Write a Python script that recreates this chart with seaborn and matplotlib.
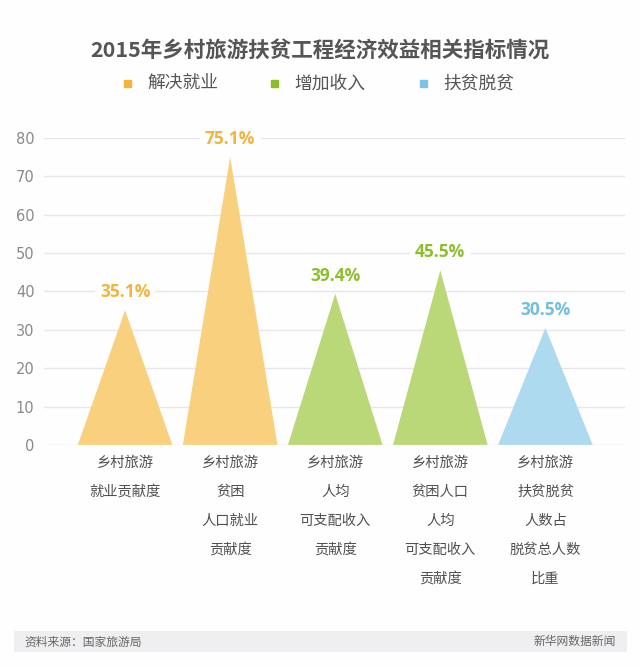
import matplotlib
matplotlib.use('Agg')
import matplotlib.pyplot as plt
import matplotlib.patches as mpatches
import seaborn as sns
import numpy as np

# data
categories = ['乡村旅游\n就业贡献度',
              '乡村旅游\n贫困\n人口就业\n贡献度',
              '乡村旅游\n人均\n可支配收入\n贡献度',
              '乡村旅游\n贫困人口\n人均\n可支配收入\n贡献度',
              '乡村旅游\n扶贫脱贫\n人数占\n脱贫总人数\n比重']
values = [35.1, 75.1, 39.4, 45.5, 30.5]
groups = ['解决就业', '解决就业', '增加收入', '增加收入', '扶贫脱贫']
legend_names = ['解决就业', '增加收入', '扶贫脱贫']
yticks = [0, 10, 20, 30, 40, 50, 60, 70, 80]

fill_colors = {'解决就业': '#F9D07E', '增加收入': '#BBD878', '扶贫脱贫': '#AEDAEF'}
text_colors = {'解决就业': '#F2B53E', '增加收入': '#8DBE2E', '扶贫脱贫': '#74BDE2'}
legend_colors = {'解决就业': '#F5B43A', '增加收入': '#8DBB2A', '扶贫脱贫': '#7CC3E5'}

sns.set_theme(style='white')
plt.rcParams['font.family'] = ['Noto Sans CJK SC', 'DejaVu Sans']

fig = plt.figure(figsize=(6.4, 6.67), dpi=100)
fig.patch.set_facecolor('#FEFEFE')
ax = fig.add_axes([0.069, 0.333, 0.908, 0.46])
ax.set_facecolor('#FEFEFE')

# invisible bars to set up the categorical axis
sns.barplot(x=list(range(len(values))), y=values, ax=ax, alpha=0, native_scale=True)

half = 0.45
for i, (v, g) in enumerate(zip(values, groups)):
    ax.fill([i - half, i, i + half], [0, v, 0], color=fill_colors[g], lw=0, zorder=3)
    ax.annotate(f'{v}%', (i, v), xytext=(0, 13), textcoords='offset points',
                ha='center', va='center', fontsize=12.5, fontweight='bold',
                color=text_colors[g], zorder=4, family=['Open Sans', 'DejaVu Sans'],
                bbox=dict(boxstyle='square,pad=0.3', fc='#FEFEFE', ec='none'))

ax.set_xlim(-0.77, 4.76)
ax.set_ylim(0, 80)
ax.set_yticks(yticks)
ax.set_xticks(range(len(categories)))
ax.set_xticklabels(categories, fontsize=10.3, color='#505050', linespacing=2.35,
                   va='top')
ax.tick_params(axis='x', length=0, pad=8)
ax.tick_params(axis='y', length=0, pad=7, labelsize=10.5, labelcolor='#8A8A8A')
for lab in ax.get_yticklabels():
    lab.set_family('DejaVu Sans')
ax.grid(axis='y', color='#E6E6EC', lw=1, zorder=0)
ax.set_axisbelow(True)
sns.despine(ax=ax, left=True, bottom=True)
ax.set_xlabel('')
ax.set_ylabel('')

# title
fig.text(0.5, 0.925, '2015年乡村旅游扶贫工程经济效益相关指标情况', ha='center', va='center',
         fontsize=15.5, fontweight='bold', color='#555555')

# legend
leg_x = [0.2, 0.43, 0.662]
for x, name in zip(leg_x, legend_names):
    fig.patches.append(mpatches.Rectangle((x - 0.006, 0.869), 0.011, 0.011,
                                          transform=fig.transFigure,
                                          color=legend_colors[name]))
    fig.text(x + 0.03, 0.875, name, ha='left', va='center', fontsize=12.8,
             color='#555555')

# footer
fig.patches.append(mpatches.Rectangle((0.022, 0.022), 0.958, 0.032,
                                      transform=fig.transFigure,
                                      color='#EFEFF1', lw=0))
fig.text(0.038, 0.038, '资料来源：国家旅游局', ha='left', va='center', fontsize=8.5,
         color='#666666', style='italic')
fig.text(0.962, 0.038, '新华网数据新闻', ha='right', va='center', fontsize=8.5,
         color='#666666', style='italic')

fig.savefig('out.png', dpi=100, facecolor=fig.get_facecolor())
